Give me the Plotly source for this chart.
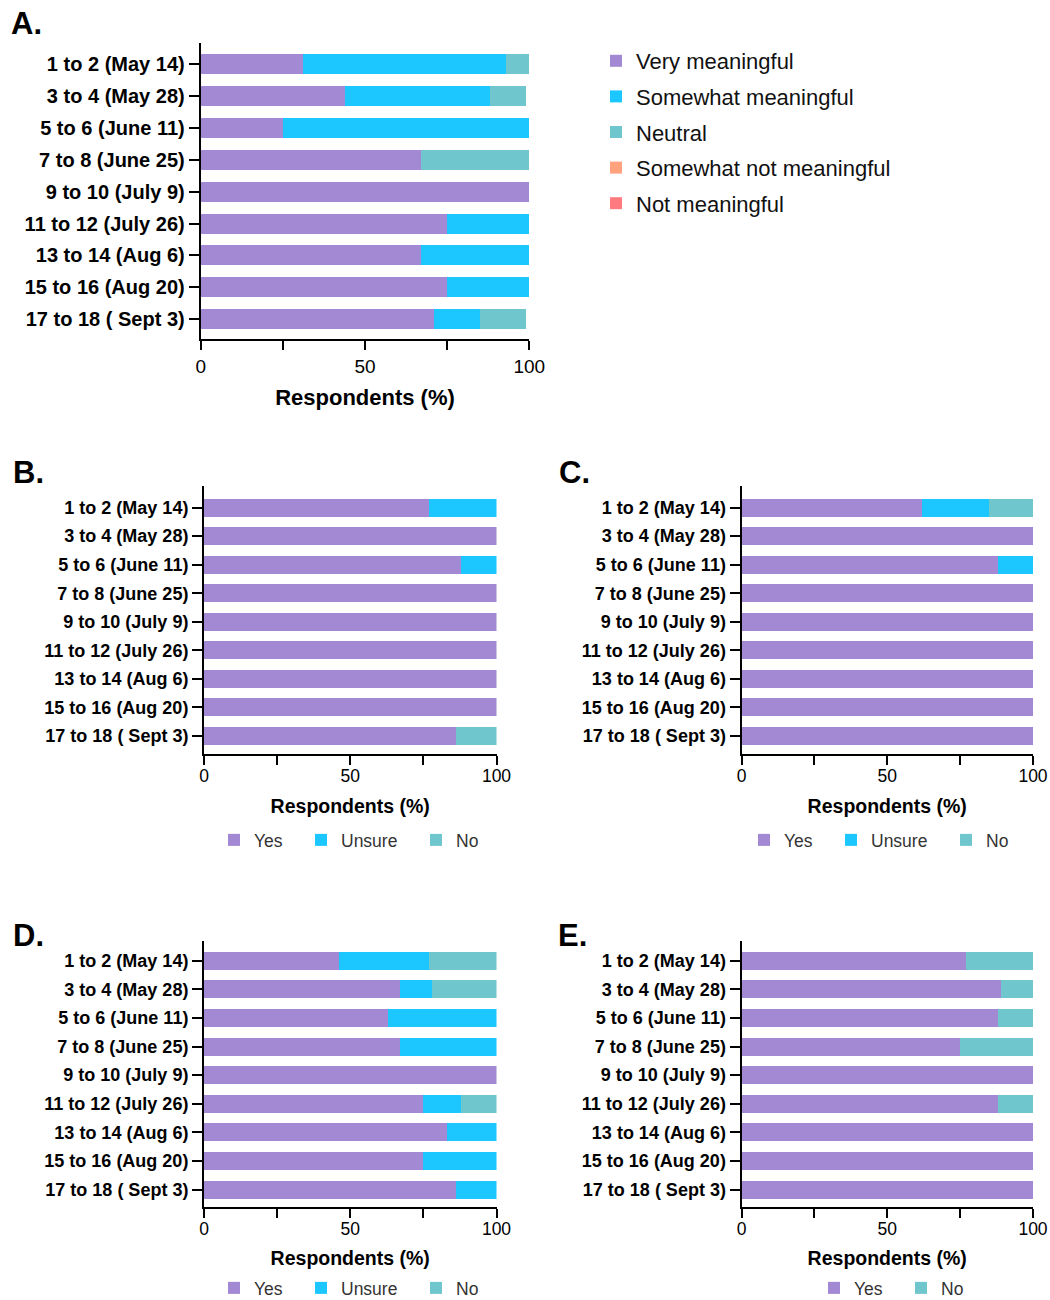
import plotly.graph_objects as go

# ---------------- data ----------------
CATEGORIES = ["1 to 2 (May 14)", "3 to 4 (May 28)", "5 to 6 (June 11)", "7 to 8 (June 25)",
              "9 to 10 (July 9)", "11 to 12 (July 26)", "13 to 14 (Aug 6)", "15 to 16 (Aug 20)",
              "17 to 18 ( Sept 3)"]

X_TICK_VALUES = [0, 25, 50, 75, 100]
X_TICK_TEXT = ["0", "", "50", "", "100"]

# Panel A
A_VERY = [31, 44, 25, 67, 100, 75, 67, 75, 71]
A_SOMEWHAT = [62, 44, 75, 0, 0, 25, 33, 25, 14]
A_NEUTRAL = [7, 11, 0, 33, 0, 0, 0, 0, 14]
A_SOMEWHAT_NOT = [0, 0, 0, 0, 0, 0, 0, 0, 0]
A_NOT = [0, 0, 0, 0, 0, 0, 0, 0, 0]

# Panel B
B_YES = [77, 100, 88, 100, 100, 100, 100, 100, 86]
B_UNSURE = [23, 0, 12, 0, 0, 0, 0, 0, 0]
B_NO = [0, 0, 0, 0, 0, 0, 0, 0, 14]

# Panel C
C_YES = [62, 100, 88, 100, 100, 100, 100, 100, 100]
C_UNSURE = [23, 0, 12, 0, 0, 0, 0, 0, 0]
C_NO = [15, 0, 0, 0, 0, 0, 0, 0, 0]

# Panel D
D_YES = [46, 67, 63, 67, 100, 75, 83, 75, 86]
D_UNSURE = [31, 11, 37, 33, 0, 13, 17, 25, 14]
D_NO = [23, 22, 0, 0, 0, 12, 0, 0, 0]

# Panel E
E_YES = [77, 89, 88, 75, 100, 88, 100, 100, 100]
E_NO = [23, 11, 12, 25, 0, 12, 0, 0, 0]

# ---------------- style ----------------
PURPLE = "#A389D4"
BLUE = "#1CC6FF"
TEAL = "#6FC6CC"
ORANGE = "#FFA27D"
RED = "#FF7B80"
FONT = "Liberation Sans"

W, H = 1050, 1300

def fx(x):
    return x / W

def fy(y):
    return 1 - y / H

def px(x0, x1):
    return [fx(x0), fx(x1)]

def py(top, bottom):
    return [fy(bottom), fy(top)]

panels = {
    "A": dict(ax="", xd=px(200.7, 529.3), yd=py(42.7, 339), yr=[8.62, -0.67], tick=20, xt=19, tt=22,
              so=14, tls=0, leg="legend"),
    "B": dict(ax="2", xd=px(204, 496.5), yd=py(486, 754), yr=[8.64, -0.76], tick=18, xt=17.5, tt=19.5,
              so=14, tls=-4, leg="legend2"),
    "C": dict(ax="3", xd=px(741.5, 1033), yd=py(486, 754), yr=[8.64, -0.76], tick=18, xt=17.5, tt=19.5,
              so=14, tls=-4, leg="legend3"),
    "D": dict(ax="4", xd=px(204, 496.5), yd=py(941, 1206.5), yr=[8.59, -0.69], tick=18, xt=17.5, tt=19.5,
              so=14, tls=-4, leg="legend4"),
    "E": dict(ax="5", xd=px(741.5, 1033), yd=py(941, 1206.5), yr=[8.59, -0.69], tick=18, xt=17.5, tt=19.5,
              so=14, tls=-4, leg="legend5"),
}

series = {
    "A": [("Very meaningful", A_VERY, PURPLE), ("Somewhat meaningful", A_SOMEWHAT, BLUE),
          ("Neutral", A_NEUTRAL, TEAL), ("Somewhat not meaningful", A_SOMEWHAT_NOT, ORANGE),
          ("Not meaningful", A_NOT, RED)],
    "B": [("Yes", B_YES, PURPLE), ("Unsure", B_UNSURE, BLUE), ("No", B_NO, TEAL)],
    "C": [("Yes", C_YES, PURPLE), ("Unsure", C_UNSURE, BLUE), ("No", C_NO, TEAL)],
    "D": [("Yes", D_YES, PURPLE), ("Unsure", D_UNSURE, BLUE), ("No", D_NO, TEAL)],
    "E": [("Yes", E_YES, PURPLE), ("No", E_NO, TEAL)],
}

# horizontal-legend entry widths (px) for the B–E legends
ENTRY_WIDTH = {"Yes": 42, "Unsure": 70, "No": 30}

fig = go.Figure()
layout = {}
for key, p in panels.items():
    ax = p["ax"]
    for name, vals, color in series[key]:
        extra = {}
        if key != "A":
            extra["legendwidth"] = ENTRY_WIDTH[name]
        fig.add_trace(go.Bar(
            orientation="h", y=CATEGORIES, x=vals, name=name,
            marker=dict(color=color, line=dict(width=0)),
            xaxis="x" + ax, yaxis="y" + ax, legend=p["leg"],
            legendgroup=key + name, **extra,
        ))
    layout["xaxis" + ax] = dict(
        domain=p["xd"], anchor="y" + ax, range=[0, 100], fixedrange=True,
        tickvals=X_TICK_VALUES, ticktext=X_TICK_TEXT,
        ticks="outside", ticklen=9, tickwidth=2, tickcolor="black",
        ticklabelstandoff=p["tls"],
        showline=True, linewidth=2, linecolor="black", showgrid=False, zeroline=False,
        tickfont=dict(family=FONT, size=p["xt"], color="black"),
        title=dict(text="<b>Respondents (%)</b>", standoff=p["so"],
                   font=dict(family=FONT, size=p["tt"], color="black")),
    )
    layout["yaxis" + ax] = dict(
        domain=p["yd"], anchor="x" + ax, type="category", range=p["yr"],
        categoryorder="array", categoryarray=CATEGORIES,
        ticks="outside", ticklen=10, tickwidth=2, tickcolor="black",
        showline=True, linewidth=2, linecolor="black", showgrid=False, zeroline=False,
        tickfont=dict(family=FONT, size=p["tick"], color="black", weight="bold"),
    )

leg_common = dict(bgcolor="rgba(0,0,0,0)", borderwidth=0)
layout["legend"] = dict(x=fx(596), y=fy(40), xanchor="left", yanchor="top",
                        font=dict(family=FONT, size=22, color="#111"),
                        traceorder="grouped", tracegroupgap=4, **leg_common)
for name, xpos, ypos, anchor in [("legend2", 214, 840, "middle"), ("legend3", 744, 840, "middle"),
                                 ("legend4", 214, 1306, "bottom"), ("legend5", 814, 1306, "bottom")]:
    layout[name] = dict(orientation="h", x=fx(xpos), y=fy(ypos), xanchor="left", yanchor=anchor,
                        traceorder="normal",
                        font=dict(family=FONT, size=17.5, color="#333"), **leg_common)

annotations = []
for letter, lx, ly in [("A.", 9, 24), ("B.", 11, 472), ("C.", 557, 472), ("D.", 11, 935), ("E.", 556, 935)]:
    annotations.append(dict(text="<b>" + letter + "</b>", x=fx(lx), y=fy(ly), xref="paper", yref="paper",
                            xanchor="left", yanchor="middle", showarrow=False,
                            font=dict(family=FONT, size=31, color="black")))

fig.update_layout(
    width=W, height=H, barmode="stack", bargap=0.37,
    margin=dict(l=0, r=0, t=0, b=0, autoexpand=False),
    paper_bgcolor="white", plot_bgcolor="white",
    font=dict(family=FONT, color="black"),
    annotations=annotations,
    **layout,
)

# remove the page's default body margin so the figure fills the window exactly
fig.write_html("out.html", config={"displayModeBar": False},
               post_script="document.body.style.margin='0px';")
